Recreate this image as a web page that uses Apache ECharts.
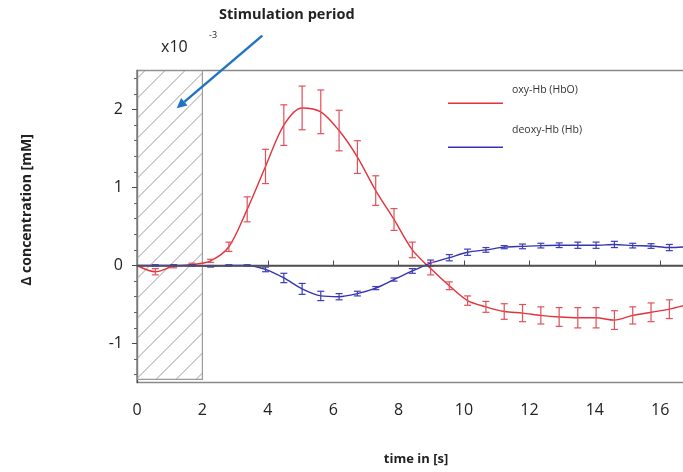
<!DOCTYPE html>
<html>
<head>
<meta charset="utf-8">
<script src="https://cdn.jsdelivr.net/npm/echarts@6/dist/echarts.min.js"></script>
<style>html,body{margin:0;padding:0;background:#fff;}#c{width:683px;height:472px;}</style>
</head>
<body>
<div id="c"></div>
<script>
const times = [0,0.56,1.12,1.68,2.25,2.81,3.37,3.93,4.49,5.05,5.62,6.18,6.74,7.30,7.86,8.42,8.98,9.55,10.11,10.67,11.23,11.79,12.35,12.91,13.48,14.04,14.60,15.16,15.72,16.28,16.84];
const hbo = [0,-0.08,-0.01,0.01,0.06,0.24,0.72,1.27,1.80,2.02,1.97,1.73,1.39,0.96,0.59,0.20,-0.04,-0.26,-0.45,-0.53,-0.59,-0.61,-0.64,-0.66,-0.67,-0.67,-0.70,-0.64,-0.60,-0.56,-0.50];
const hboErr = [0,0.04,0.02,0.02,0.02,0.06,0.16,0.22,0.26,0.28,0.28,0.26,0.21,0.19,0.14,0.10,0.08,0.05,0.06,0.07,0.10,0.11,0.11,0.12,0.13,0.13,0.12,0.11,0.12,0.12,0.12];
const hb = [0,0,0,0,-0.01,0,0,-0.05,-0.16,-0.30,-0.39,-0.40,-0.36,-0.29,-0.18,-0.07,0.03,0.10,0.17,0.20,0.235,0.245,0.255,0.26,0.26,0.26,0.27,0.255,0.25,0.23,0.24];
const hbErr = [0,0.01,0.01,0.01,0.01,0.01,0.01,0.03,0.06,0.07,0.06,0.04,0.03,0.02,0.02,0.03,0.04,0.04,0.04,0.03,0.02,0.03,0.03,0.03,0.04,0.04,0.04,0.03,0.03,0.04,0.03];
const seriesNames = ['oxy-Hb (HbO)', 'deoxy-Hb (Hb)'];
const yLabelValues = [-1, 0, 1, 2];
const yMinorValues = [-1.4,-1.2,-0.8,-0.6,-0.4,-0.2,0.2,0.4,0.6,0.8,1.2,1.4,1.6,1.8,2.2,2.4];
const stimPeriod = [0, 2];

const RED = '#e2333a', RED_ERR = '#e2505a', BLUE = '#3434b0', BLUE_ERR = '#3c3cb8';
const FONT = 'Open Sans';

function pairs(vals){ return times.map((t,i)=>[t, vals[i]]); }
function errData(vals, errs){
  const out = [];
  for (let i = 1; i < times.length; i++) out.push([times[i], vals[i]-errs[i], vals[i]+errs[i]]);
  return out;
}
function errRender(color){
  return function(params, api){
    const t = api.value(0), lo = api.value(1), hi = api.value(2);
    const p1 = api.coord([t, hi]), p2 = api.coord([t, lo]);
    const w = 3.5;
    const st = {stroke: color, lineWidth: 1.2};
    return {type:'group', children:[
      {type:'line', shape:{x1:p1[0], y1:p1[1], x2:p2[0], y2:p2[1]}, style:st},
      {type:'line', shape:{x1:p1[0]-w, y1:p1[1], x2:p1[0]+w, y2:p1[1]}, style:st},
      {type:'line', shape:{x1:p2[0]-w, y1:p2[1], x2:p2[0]+w, y2:p2[1]}, style:st}
    ]};
  };
}
function hatchRender(params, api){
  const a = api.coord([api.value(0), api.value(3)]);
  const b = api.coord([api.value(1), api.value(2)]);
  const x0 = a[0], y0 = a[1], x1 = b[0], y1 = b[1];
  const children = [];
  const step = 20;
  for (let c = x0 + y0 + 8; c < x1 + y1; c += step) {
    const xa = Math.max(x0, c - y1), xb = Math.min(x1, c - y0);
    if (xb <= xa) continue;
    children.push({type:'line', shape:{x1:xa, y1:c-xa, x2:xb, y2:c-xb}, style:{stroke:'#9a9a9a', lineWidth:1}});
  }
  children.push({type:'rect', shape:{x:x0, y:y0, width:x1-x0, height:y1-y0}, style:{fill:null, stroke:'#9a9a9a', lineWidth:1.2}});
  return {type:'group', children};
}

const chart = echarts.init(document.getElementById('c'), null, {renderer:'canvas'});
chart.setOption({
  animation: false,
  backgroundColor: '#fff',
  grid: {left: 137, top: 70.5, width: 654, height: 312, outerBoundsMode: 'none', containLabel: false,
         show: true, borderColor: '#8a8a8a', borderWidth: 1.5, backgroundColor: 'transparent'},
  xAxis: {
    type: 'value', min: 0, max: 20, interval: 2,
    axisLine: {lineStyle: {color: '#4a4a4a', width: 1.3}},
    axisTick: {inside: true, length: 5, lineStyle: {color: '#4a4a4a'}},
    axisLabel: {margin: 20, fontSize: 16, color: '#222', fontFamily: FONT, formatter: v => v > 16 ? '' : String(v)},
    splitLine: {show: false}
  },
  yAxis: [{
    type: 'value', min: -1.5, max: 2.5,
    axisLine: {show: true, lineStyle: {color: '#4a4a4a', width: 1.3}},
    axisTick: {show: true, length: 5, customValues: yLabelValues, lineStyle: {color: '#4a4a4a'}},
    axisLabel: {margin: 14, fontSize: 16, color: '#222', fontFamily: FONT, customValues: yLabelValues},
    splitLine: {show: false}
  },{
    type: 'value', min: -1.5, max: 2.5, position: 'left',
    axisLine: {show: false},
    axisTick: {show: true, length: 3, customValues: yMinorValues, lineStyle: {color: '#666'}},
    axisLabel: {show: false},
    splitLine: {show: false}
  }],
  series: [
    {type:'custom', renderItem: hatchRender, data: [[stimPeriod[0], stimPeriod[1], -1.46, 2.5]], z: 1, silent: true, clip: true},
    {type:'line', name: seriesNames[0], data: pairs(hbo), smooth: 0.3, showSymbol: false, lineStyle:{color: RED, width: 1.4}, z: 3,
      markLine: {silent: true, symbol: 'none', label: {show: false}, lineStyle: {color: '#555', width: 1.6, type: 'solid'}, data: [{yAxis: 0}]}},
    {type:'custom', renderItem: errRender(RED_ERR), data: errData(hbo, hboErr), z: 4, silent: true},
    {type:'line', name: seriesNames[1], data: pairs(hb), smooth: 0.3, showSymbol: false, lineStyle:{color: BLUE, width: 1.4}, z: 3},
    {type:'custom', renderItem: errRender(BLUE_ERR), data: errData(hb, hbErr), z: 4, silent: true}
  ],
  graphic: [
    {type:'text', left: 219, top: 7, style:{text:'Stimulation period', font:'bold 14.5px "Open Sans"', fill:'#222'}},
    {type:'text', left: 161, top: 39, style:{text:'x10', font:'16px "Open Sans"', fill:'#222'}},
    {type:'text', left: 209, top: 31, style:{text:'-3', font:'9px "Open Sans"', fill:'#222'}},
    {type:'line', shape:{x1:262.3, y1:35.7, x2:184.3, y2:101.8}, style:{stroke:'#1f72c4', lineWidth:2.4}, z: 100},
    {type:'polygon', shape:{points:[[176.7,108.3],[187.5,105.6],[181.1,98.0]]}, style:{fill:'#1f72c4'}, z: 100},
    {type:'line', shape:{x1:448, y1:103.3, x2:503, y2:103.3}, style:{stroke:RED, lineWidth:1.6}, z: 100},
    {type:'text', left: 512, top: 85, style:{text:seriesNames[0], font:'10.5px "Open Sans"', fill:'#333'}, z: 100},
    {type:'line', shape:{x1:448, y1:147.3, x2:503, y2:147.3}, style:{stroke:BLUE, lineWidth:1.6}, z: 100},
    {type:'text', left: 512, top: 125, style:{text:seriesNames[1], font:'10.5px "Open Sans"', fill:'#333'}, z: 100},
    {type:'text', x: 416, y: 459, style:{text:'time in [s]', font:'bold 13px "Open Sans"', fill:'#222', align:'center', verticalAlign:'middle'}},
    {type:'text', x: 27, y: 210, rotation: Math.PI/2, style:{text:'Δ concentration [mM]', font:'bold 14px "Open Sans"', fill:'#222', align:'center', verticalAlign:'middle'}}
  ]
});
</script>
</body>
</html>
